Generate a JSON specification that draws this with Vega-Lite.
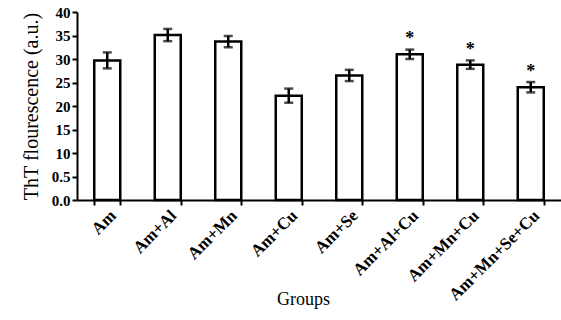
{
  "$schema": "https://vega.github.io/schema/vega-lite/v6.json",
  "width": 484,
  "height": 188,
  "autosize": {"type": "none"},
  "padding": {"left": 77, "top": 12, "right": 0, "bottom": 120},
  "background": "white",
  "data": {
    "values": [
      {"group": "Am", "value": 29.7, "err": 1.7, "sig": ""},
      {"group": "Am+Al", "value": 35.1, "err": 1.3, "sig": ""},
      {"group": "Am+Mn", "value": 33.7, "err": 1.2, "sig": ""},
      {"group": "Am+Cu", "value": 22.2, "err": 1.5, "sig": ""},
      {"group": "Am+Se", "value": 26.5, "err": 1.2, "sig": ""},
      {"group": "Am+Al+Cu", "value": 31.0, "err": 1.0, "sig": "*"},
      {"group": "Am+Mn+Cu", "value": 28.8, "err": 0.9, "sig": "*"},
      {"group": "Am+Mn+Se+Cu", "value": 24.0, "err": 1.1, "sig": "*"}
    ]
  },
  "encoding": {
    "x": {
      "field": "group",
      "type": "nominal",
      "sort": null,
      "scale": {"paddingInner": 0.57, "paddingOuter": 0.285},
      "axis": {
        "title": "Groups",
        "titleX": 226,
        "titleY": 90,
        "titleFontSize": 18,
        "labelAngle": -45,
        "labelAlign": "right",
        "labelBaseline": "top",
        "labelFontSize": 17,
        "tickBand": "extent",
        "labelPadding": 2,
        "labelOverlap": false
      }
    },
    "y": {
      "field": "value",
      "type": "quantitative",
      "scale": {"domain": [0, 40]},
      "axis": {
        "title": "ThT flourescence (a.u.)",
        "values": [0, 5, 10, 15, 20, 25, 30, 35, 40],
        "labelExpr": "datum.value < 1 ? '0.0' : (datum.value < 7 ? '0.5' : datum.label)",
        "labelOverlap": false,
        "labelFlush": false,
        "grid": false,
        "titlePadding": 10,
        "titleFontSize": 20
      }
    }
  },
  "layer": [
    {
      "mark": {"type": "bar", "fill": "white", "stroke": "black", "strokeWidth": 2.5}
    },
    {
      "mark": {"type": "errorbar", "ticks": {"size": 9, "thickness": 2.5, "color": "black"}, "rule": {"strokeWidth": 2.5, "color": "black"}},
      "encoding": {
        "yError": {"field": "err"}
      }
    },
    {
      "mark": {"type": "text", "fontSize": 18, "fontWeight": "bold", "font": "Liberation Serif", "dy": -6, "baseline": "bottom", "color": "black"},
      "encoding": {
        "y": {"field": "value", "type": "quantitative", "scale": {"domain": [0, 40]}, "axis": {
          "title": "ThT flourescence (a.u.)",
          "values": [0, 5, 10, 15, 20, 25, 30, 35, 40],
          "labelExpr": "datum.value < 1 ? '0.0' : (datum.value < 7 ? '0.5' : datum.label)",
          "labelOverlap": false,
          "labelFlush": false,
          "grid": false,
          "titlePadding": 10,
          "titleFontSize": 20
        }},
        "yOffset": {"field": "err", "type": "quantitative", "scale": {"domain": [0, 40], "range": [0, -188]}},
        "text": {"field": "sig"}
      }
    }
  ],
  "config": {
    "view": {"stroke": null},
    "axis": {
      "labelFont": "Liberation Serif",
      "labelFontSize": 15,
      "labelFontWeight": "bold",
      "labelColor": "black",
      "titleFont": "Liberation Serif",
      "titleFontSize": 16,
      "titleFontWeight": "normal",
      "titleColor": "black",
      "domainColor": "black",
      "domainWidth": 2,
      "tickColor": "black",
      "tickWidth": 2,
      "tickSize": 5
    }
  }
}
